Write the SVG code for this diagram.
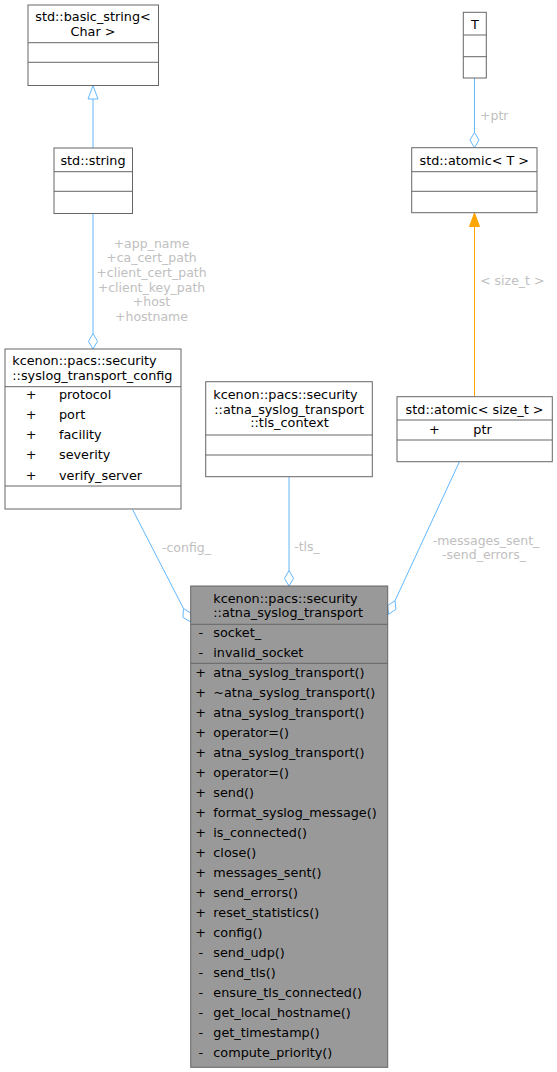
<svg xmlns="http://www.w3.org/2000/svg" width="557" height="1072" viewBox="0 0 557 1072">
<style>
text{font-family:"DejaVu Sans","Liberation Sans",sans-serif;font-size:12.8px;fill:#000}
.box{fill:#fff;stroke:#666;stroke-width:1}
.main{fill:#999;stroke:#666;stroke-width:1}
.div{stroke:#666;stroke-width:1}
.lbl{fill:#c0c0c0;font-size:12.5px}
.c{text-anchor:middle}
.e{fill:none;stroke:#63b8ff;stroke-width:1}
.o{fill:none;stroke:#ffa500;stroke-width:1}
.dia{fill:#fff;stroke:#63b8ff;stroke-width:1}
</style>
<rect width="557" height="1072" fill="#fff"/>
<g id="edges">
<line class="e" x1="93" y1="99" x2="93" y2="148"/>
<polygon points="93,85.5 98,99 88,99" fill="#fff" stroke="#63b8ff"/>
<line class="e" x1="93" y1="213.5" x2="93" y2="333.5"/>
<polygon class="dia" points="93,333.5 97.5,341.3 93,349 88.5,341.3"/>
<text class="lbl c" x="151.5" y="247.8">+app_name</text>
<text class="lbl c" x="151.5" y="262.4">+ca_cert_path</text>
<text class="lbl c" x="151.5" y="277">+client_cert_path</text>
<text class="lbl c" x="151.5" y="291.6">+client_key_path</text>
<text class="lbl c" x="151.5" y="306.2">+host</text>
<text class="lbl c" x="151.5" y="320.8">+hostname</text>
<line class="e" x1="474.5" y1="78" x2="474.5" y2="132.5"/>
<polygon class="dia" points="474.5,132.5 479,140.1 474.5,147.7 470,140.1"/>
<text class="lbl c" x="494.2" y="120.3">+ptr</text>
<line class="o" x1="474.5" y1="226.5" x2="474.5" y2="397"/>
<polygon points="474.5,213 479.5,226.5 469.5,226.5" fill="#ffa500" stroke="#ffa500"/>
<text class="lbl c" x="512.3" y="284.9">&lt; size_t &gt;</text>
<line class="e" x1="132.5" y1="509.5" x2="183.5" y2="608.5"/>
<polygon class="dia" points="183.5,608.5 190.9,613.1 190.4,621.8 182.9,617.3"/>
<text class="lbl c" x="186.5" y="552.2">-config_</text>
<line class="e" x1="289" y1="477" x2="289" y2="570.5"/>
<polygon class="dia" points="289,570.5 293.5,578.3 289,586 284.5,578.3"/>
<text class="lbl c" x="307" y="551.2">-tls_</text>
<line class="e" x1="459.3" y1="462" x2="395" y2="600.7"/>
<polygon class="dia" points="395,600.7 395.9,609.4 388.5,614.3 387.7,605.6"/>
<text class="lbl c" x="486" y="544.6">-messages_sent_</text>
<text class="lbl c" x="484" y="559.4">-send_errors_</text>
</g>
<g id="basic_string">
<rect class="box" x="28" y="5" width="130.5" height="80.5"/>
<line class="div" x1="28" y1="42.7" x2="158.5" y2="42.7"/>
<line class="div" x1="28" y1="62.3" x2="158.5" y2="62.3"/>
<text class="c" x="93" y="21.3">std::basic_string&lt;</text>
<text class="c" x="93" y="36.3">Char &gt;</text>
</g>
<g id="string">
<rect class="box" x="54" y="148" width="78.5" height="65.5"/>
<line class="div" x1="54" y1="171.7" x2="132.5" y2="171.7"/>
<line class="div" x1="54" y1="191.3" x2="132.5" y2="191.3"/>
<text class="c" x="93" y="164.9">std::string</text>
</g>
<g id="T">
<rect class="box" x="463.3" y="12.3" width="23" height="65.7"/>
<line class="div" x1="463.3" y1="35" x2="486.3" y2="35"/>
<line class="div" x1="463.3" y1="56.7" x2="486.3" y2="56.7"/>
<text class="c" x="474.8" y="29.3">T</text>
</g>
<g id="atomic_T">
<rect class="box" x="411.7" y="147.7" width="125.3" height="65"/>
<line class="div" x1="411.7" y1="171.7" x2="537" y2="171.7"/>
<line class="div" x1="411.7" y1="191.3" x2="537" y2="191.3"/>
<text class="c" x="474.3" y="165.3">std::atomic&lt; T &gt;</text>
</g>
<g id="atomic_size_t">
<rect class="box" x="397" y="396.7" width="155.3" height="65"/>
<line class="div" x1="397" y1="420" x2="552.3" y2="420"/>
<line class="div" x1="397" y1="440" x2="552.3" y2="440"/>
<text class="c" x="474.6" y="413.6">std::atomic&lt; size_t &gt;</text>
<text class="c" x="434.3" y="433.9">+</text>
<text x="473.3" y="433.9">ptr</text>
</g>
<g id="syslog_transport_config">
<rect class="box" x="5" y="349" width="176" height="160"/>
<line class="div" x1="5" y1="386.7" x2="181" y2="386.7"/>
<line class="div" x1="5" y1="486" x2="181" y2="486"/>
<text x="12.3" y="365.3">kcenon::pacs::security</text>
<text x="12.3" y="379.6">::syslog_transport_config</text>
<text class="c" x="31" y="399">+</text><text x="59" y="399">protocol</text>
<text class="c" x="31" y="419.3">+</text><text x="59" y="419.3">port</text>
<text class="c" x="31" y="439.3">+</text><text x="59" y="439.3">facility</text>
<text class="c" x="31" y="459.3">+</text><text x="59" y="459.3">severity</text>
<text class="c" x="31" y="479.6">+</text><text x="59" y="479.6">verify_server</text>
</g>
<g id="tls_context">
<rect class="box" x="205.7" y="381.7" width="166.6" height="95"/>
<line class="div" x1="205.7" y1="435" x2="372.3" y2="435"/>
<line class="div" x1="205.7" y1="455" x2="372.3" y2="455"/>
<text x="213.3" y="398.9">kcenon::pacs::security</text>
<text x="214.3" y="413.6">::atna_syslog_transport</text>
<text class="c" x="289.5" y="427.3">::tls_context</text>
</g>
<g id="atna_syslog_transport">
<rect class="main" x="190.7" y="586" width="197" height="481.3"/>
<line class="div" x1="190.7" y1="624.3" x2="387.7" y2="624.3"/>
<line class="div" x1="190.7" y1="663.3" x2="387.7" y2="663.3"/>
<text x="213.3" y="602.9">kcenon::pacs::security</text>
<text x="213.3" y="616.9">::atna_syslog_transport</text>
<text class="c" x="200.7" y="637.3">-</text><text x="213.3" y="637.3">socket_</text>
<text class="c" x="200.7" y="657.3">-</text><text x="213.3" y="657.3">invalid_socket</text>
<text class="c" x="200.7" y="677.3">+</text><text x="213.3" y="677.3">atna_syslog_transport()</text>
<text class="c" x="200.7" y="697.3">+</text><text x="213.3" y="697.3">~atna_syslog_transport()</text>
<text class="c" x="200.7" y="717.3">+</text><text x="213.3" y="717.3">atna_syslog_transport()</text>
<text class="c" x="200.7" y="737.3">+</text><text x="213.3" y="737.3">operator=()</text>
<text class="c" x="200.7" y="757.3">+</text><text x="213.3" y="757.3">atna_syslog_transport()</text>
<text class="c" x="200.7" y="777.3">+</text><text x="213.3" y="777.3">operator=()</text>
<text class="c" x="200.7" y="797.3">+</text><text x="213.3" y="797.3">send()</text>
<text class="c" x="200.7" y="817.3">+</text><text x="213.3" y="817.3">format_syslog_message()</text>
<text class="c" x="200.7" y="837.3">+</text><text x="213.3" y="837.3">is_connected()</text>
<text class="c" x="200.7" y="857.3">+</text><text x="213.3" y="857.3">close()</text>
<text class="c" x="200.7" y="877.3">+</text><text x="213.3" y="877.3">messages_sent()</text>
<text class="c" x="200.7" y="897.3">+</text><text x="213.3" y="897.3">send_errors()</text>
<text class="c" x="200.7" y="917.3">+</text><text x="213.3" y="917.3">reset_statistics()</text>
<text class="c" x="200.7" y="937.3">+</text><text x="213.3" y="937.3">config()</text>
<text class="c" x="200.7" y="957.3">-</text><text x="213.3" y="957.3">send_udp()</text>
<text class="c" x="200.7" y="977.3">-</text><text x="213.3" y="977.3">send_tls()</text>
<text class="c" x="200.7" y="997.3">-</text><text x="213.3" y="997.3">ensure_tls_connected()</text>
<text class="c" x="200.7" y="1017.3">-</text><text x="213.3" y="1017.3">get_local_hostname()</text>
<text class="c" x="200.7" y="1037.3">-</text><text x="213.3" y="1037.3">get_timestamp()</text>
<text class="c" x="200.7" y="1057.3">-</text><text x="213.3" y="1057.3">compute_priority()</text>
</g>
</svg>
